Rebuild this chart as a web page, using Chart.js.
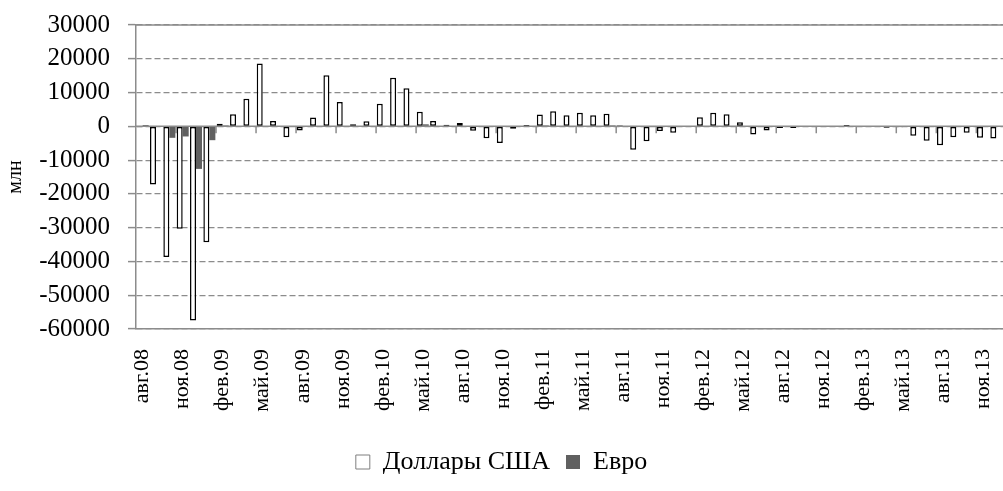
<!DOCTYPE html>
<html>
<head>
<meta charset="utf-8">
<script src="https://cdn.jsdelivr.net/npm/chart.js@4.4.1/dist/chart.umd.min.js"></script>
<style>
  html, body { margin: 0; padding: 0; background: #fff; }
  #wrap { width: 1003px; height: 491px; }
</style>
</head>
<body>
<div id="wrap"><canvas id="flowChart"></canvas></div>
<script>
// monthly categories, авг.08 .. дек.13
const months = [
  'авг.08', 'сен.08', 'окт.08', 'ноя.08', 'дек.08',
  'янв.09', 'фев.09', 'мар.09', 'апр.09', 'май.09', 'июн.09', 'июл.09', 'авг.09', 'сен.09', 'окт.09', 'ноя.09', 'дек.09',
  'янв.10', 'фев.10', 'мар.10', 'апр.10', 'май.10', 'июн.10', 'июл.10', 'авг.10', 'сен.10', 'окт.10', 'ноя.10', 'дек.10',
  'янв.11', 'фев.11', 'мар.11', 'апр.11', 'май.11', 'июн.11', 'июл.11', 'авг.11', 'сен.11', 'окт.11', 'ноя.11', 'дек.11',
  'янв.12', 'фев.12', 'мар.12', 'апр.12', 'май.12', 'июн.12', 'июл.12', 'авг.12', 'сен.12', 'окт.12', 'ноя.12', 'дек.12',
  'янв.13', 'фев.13', 'мар.13', 'апр.13', 'май.13', 'июн.13', 'июл.13', 'авг.13', 'сен.13', 'окт.13', 'ноя.13', 'дек.13'
];

// млн
const usdFlow = [
  -300, -17200, -38700, -30300, -57500,
  -34300, 800, 3600, 8200, 18600, 1600, -3200, -1200, 2600, 15100, 7200, 600,
  1500, 6700, 14400, 11300, 4300, 1600, 500, 1000, -1300, -3500, -4900, -700,
  400, 3500, 4500, 3300, 4000, 3300, 3700, 300, -6900, -4400, -1400, -1900,
  -200, 2700, 4000, 3600, 1200, -2400, -1200, -500, -500, -200, -200, 0,
  400, 0, 0, -400, -300, -2800, -4300, -5600, -3200, -1900, -3400, -3600
];
const eurFlow = [
  400, -200, -3400, -3000, -12600,
  -4100, 300, 0, 0, 0, 0, 0, 0, 0, 0, 0, 0,
  0, 0, 0, 0, 600, 0, 0, 0, 0, 0, 0, 0,
  0, 300, 0, 0, 0, 0, 300, 0, 0, 0, 0, 0,
  0, 0, 0, 0, 0, 0, 0, 0, 0, 0, 0, 0,
  0, 0, 0, 0, 0, 0, 0, 0, 0, 0, 0, 0
];

const yMin = -60000;
const yMax = 30000;
const yStep = 10000;

Chart.defaults.font.family = '"Liberation Serif", "Times New Roman", serif';
Chart.defaults.color = '#000';

const axisGrey = '#8c8c8c';

// solid top line, zero axis and the every-3-months tick marks on it
const zeroAxis = {
  id: 'zeroAxis',
  beforeDatasetsDraw(chart) {
    const { ctx, chartArea, scales: { x, y } } = chart;
    const y0 = y.getPixelForValue(0);
    const half = (x.getPixelForValue(1) - x.getPixelForValue(0)) / 2;
    ctx.save();
    ctx.strokeStyle = axisGrey;
    ctx.lineWidth = 1.5;
    ctx.beginPath();
    ctx.moveTo(chartArea.left, chartArea.top);
    ctx.lineTo(chartArea.right, chartArea.top);
    ctx.moveTo(chartArea.left, y0);
    ctx.lineTo(chartArea.right, y0);
    for (let k = 3; k < months.length; k += 3) {
      const px = x.getPixelForValue(k) - half;
      ctx.moveTo(px, y0);
      ctx.lineTo(px, y0 + 7);
    }
    ctx.stroke();
    ctx.restore();
  }
};

const ctx = document.getElementById('flowChart').getContext('2d');

const flowChart = new Chart(ctx, {
  type: 'bar',
  data: {
    labels: months,
    datasets: [
      {
        label: 'Доллары США',
        data: usdFlow,
        backgroundColor: '#ffffff',
        borderColor: '#000000',
        borderWidth: 1.5,
        borderSkipped: false,
        categoryPercentage: 0.9,
        barPercentage: 1.0,
      },
      {
        label: 'Евро',
        data: eurFlow,
        backgroundColor: '#606060',
        borderWidth: 0,
        categoryPercentage: 0.9,
        barPercentage: 1.0,
      }
    ]
  },
  options: {
    responsive: true,
    maintainAspectRatio: false,
    animation: false,
    layout: {
      padding: { top: 25, right: 0, bottom: 6, left: 0 }
    },
    scales: {
      x: {
        grid: { display: false },
        border: { display: true, color: axisGrey, width: 1.5 },
        ticks: {
          autoSkip: false,
          maxRotation: 90,
          minRotation: 90,
          padding: 12,
          font: { size: 22 },
          callback: (value, index) => (index % 3 === 0 ? months[index] : ''),
        },
        afterFit: (scale) => {
          scale.height = 104;
          scale.paddingLeft = 0;
          scale.paddingRight = 0;
        },
      },
      y: {
        min: yMin,
        max: yMax,
        ticks: {
          stepSize: yStep,
          autoSkip: false,
          padding: 18,
          font: { size: 25 },
          callback: (value) => String(value),
        },
        grid: {
          color: axisGrey,
          lineWidth: 1.2,
          tickLength: 8,
          tickColor: axisGrey,
          tickWidth: 1.5,
        },
        border: { display: true, color: axisGrey, width: 1.5, dash: [6, 3] },
        title: {
          display: true,
          text: 'млн',
          font: { size: 20 },
          padding: { top: 4, bottom: 0 },
        },
        afterFit: (scale) => {
          scale.width = 136;
          scale.paddingTop = 0;
          scale.paddingBottom = 0;
        },
      }
    },
    plugins: {
      legend: {
        display: true,
        position: 'bottom',
        labels: {
          boxWidth: 14,
          boxHeight: 14,
          padding: 16,
          font: { size: 26 },
          generateLabels: (chart) => {
            const items = Chart.defaults.plugins.legend.labels.generateLabels(chart);
            items[0].strokeStyle = '#7f7f7f';
            items[0].lineWidth = 1;
            return items;
          },
        },
      },
      tooltip: { enabled: false },
    }
  },
  plugins: [zeroAxis]
});
</script>
</body>
</html>
